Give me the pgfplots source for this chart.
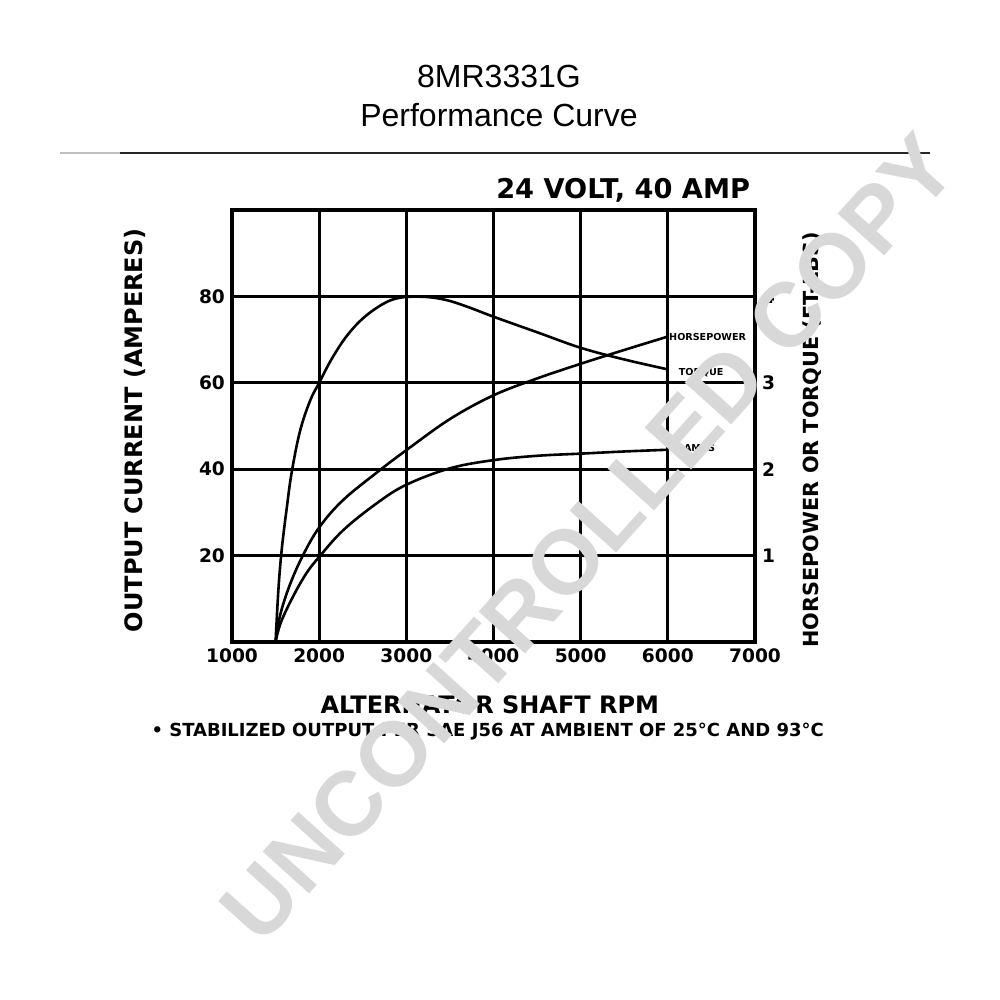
\documentclass[border=0pt]{standalone}
\usepackage{pgfplots}
\pgfplotsset{compat=1.18}
\usepackage{fontspec}
\setmainfont{Liberation Sans}
\newfontfamily\pf{DejaVu Sans}
\definecolor{wm}{RGB}{216,216,216}

% torque (steep curve), horsepower and amps
\pgfplotstableread{
rpm val
1500 0
1532 12
1570 21.3
1628 31
1685 39.3
1780 48.8
1895 55.8
2000 60
2143 65.5
2315 70.8
2507 75
2737 78.3
2930 79.7
3200 79.9
3450 79.2
3700 77.6
4000 75.3
4500 71.7
5000 68.1
5500 65.4
6000 63.1
}\torque

\pgfplotstableread{
rpm val
1500 0
1550 6
1650 12.5
1800 19.5
2000 26.5
2277 32.9
2698 39.8
3000 44.4
3500 51.6
4000 57.1
4500 61
5000 64.4
5500 67.6
6000 70.7
}\hp

\pgfplotstableread{
rpm val
1500 0
1560 4.5
1700 10.5
1850 15.8
2000 19.7
2277 25.9
2660 32.1
3000 36.4
3500 40.2
4000 42.1
4500 43.1
5000 43.6
5500 44.1
6000 44.5
}\amps

\begin{document}
\begin{tikzpicture}
\path[use as bounding box] (0,0) rectangle (500pt,500pt);
\node[anchor=base, font=\fontsize{16}{18}\selectfont] at (249.5pt,456pt) {8MR3331G};
\node[anchor=base, font=\fontsize{16}{18}\selectfont] at (249.5pt,436.5pt) {Performance Curve};
\draw[line width=0.8pt, black!25] (30pt,423.5pt) -- (60pt,423.5pt);
\draw[line width=0.8pt, black!85] (60pt,423.5pt) -- (465pt,423.5pt);

\begin{axis}[
    at={(116pt,179pt)}, anchor=south west,
    scale only axis, width=261.5pt, height=216pt,
    xmin=1000, xmax=7000, ymin=0, ymax=100,
    xtick={1000,2000,...,7000},
    ytick={20,40,60,80},
    grid=major,
    major grid style={line width=1.4pt, black},
    axis line style={line width=2pt},
    major tick length=0pt,
    tick label style={font=\pf\bfseries\fontsize{9.3}{10}\selectfont},
    /pgf/number format/assume math mode=true,
    /pgf/number format/1000 sep={},
    clip=false,
  ]
  \addplot[black, line width=1.3pt, smooth, tension=0.6] table[x=rpm, y=val] {\torque};
  \addplot[black, line width=1.3pt, smooth, tension=0.6] table[x=rpm, y=val] {\hp};
  \addplot[black, line width=1.3pt, smooth, tension=0.6] table[x=rpm, y=val] {\amps};

  \node[font=\pf\bfseries\fontsize{4.8}{5}\selectfont, anchor=west, inner sep=0.5pt] at (axis cs:6000,70.6) {HORSEPOWER};
  \node[font=\pf\bfseries\fontsize{4.8}{5}\selectfont, anchor=west, inner sep=0.5pt] at (axis cs:6110,62.3) {TORQUE};
  \node[font=\pf\bfseries\fontsize{4.8}{5}\selectfont, anchor=west, inner sep=0.5pt] at (axis cs:6170,44.9) {AMPS};

  \node[font=\pf\bfseries\fontsize{12}{12}\selectfont] at (axis description cs:0.493,-0.146) {ALTERNATOR SHAFT RPM};
  \node[font=\pf\bfseries\fontsize{9}{9}\selectfont] at (axis description cs:0.489,-0.208) {• STABILIZED OUTPUT PER SAE J56 AT AMBIENT OF 25°C AND 93°C};
  \node[font=\pf\bfseries\fontsize{12}{12}\selectfont, rotate=90] at (axis description cs:-0.185,0.49) {OUTPUT CURRENT (AMPERES)};
  \node[font=\pf\bfseries\fontsize{10.4}{10}\selectfont, rotate=90] at (axis description cs:1.109,0.468) {HORSEPOWER OR TORQUE (FT-LBS)};
  \node[font=\pf\bfseries\fontsize{13.6}{14}\selectfont, anchor=east] at (axis description cs:1.004,1.046) {24 VOLT, 40 AMP};
\end{axis}

\begin{axis}[
    at={(116pt,179pt)}, anchor=south west,
    scale only axis, width=261.5pt, height=216pt,
    xmin=1000, xmax=7000, ymin=0, ymax=5,
    hide x axis, axis y line*=right,
    ytick={1,2,3,4},
    axis line style={line width=2pt},
    major tick length=0pt,
    yticklabel style={font=\pf\bfseries\fontsize{9.3}{10}\selectfont},
    /pgf/number format/assume math mode=true,
  ]
\end{axis}

\node[rotate=48, text=wm, font=\bfseries\fontsize{45.5}{46}\selectfont] at (294pt,231pt) {UNCONTROLLED COPY};
\end{tikzpicture}
\end{document}
